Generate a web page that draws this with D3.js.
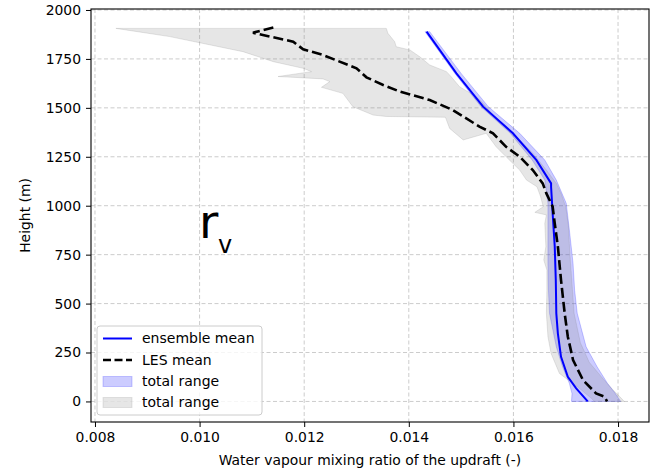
<!DOCTYPE html>
<html>
<head>
<meta charset="utf-8">
<script src="https://cdn.jsdelivr.net/npm/d3@7"></script>
<style>
  html, body { margin: 0; padding: 0; background: #fff; }
  svg { display: block; font-family: "DejaVu Sans", sans-serif; }
</style>
</head>
<body>
<svg id="chart" width="651" height="470"></svg>
<script>
// ---- data (height in m, value = water vapour mixing ratio) ----
const xTicks = [0.008, 0.010, 0.012, 0.014, 0.016, 0.018];
const yTicks = [0, 250, 500, 750, 1000, 1250, 1500, 1750, 2000];

// ensemble mean
const ensHeight = [1889, 1676, 1506, 1370, 1233, 1114, 1097, 961, 791, 620, 450, 347, 228, 126, 67, 0];
const ensMean   = [0.01434, 0.01491, 0.01542, 0.01599, 0.01644, 0.01672, 0.01672, 0.01675, 0.01679, 0.01681, 0.01682, 0.01685, 0.01691, 0.01704, 0.01720, 0.01742];

// ensemble total range
const ensRangeHeight = [1889, 1676, 1506, 1370, 1233, 1131, 1012, 876, 705, 569, 450, 279, 177, 92, 40, 0];
const ensMin = [0.01431, 0.01488, 0.01538, 0.01594, 0.01636, 0.01660, 0.01666, 0.01666, 0.01666, 0.01667, 0.01669, 0.01682, 0.01694, 0.01707, 0.01712, 0.01711];
const ensMax = [0.01440, 0.01500, 0.01552, 0.01612, 0.01660, 0.01682, 0.01701, 0.01707, 0.01714, 0.01717, 0.01722, 0.01739, 0.01760, 0.01780, 0.01795, 0.01805];

// LES mean
const lesHeight = [1910, 1884, 1872, 1838, 1799, 1770, 1702, 1656, 1617, 1583, 1540, 1489, 1404, 1370, 1301, 1250, 1182, 1114, 1063, 995, 910, 791, 620, 450, 331, 212, 109, 41, 24, 0];
const lesMean   = [0.01141, 0.01102, 0.01121, 0.01179, 0.01198, 0.01236, 0.01300, 0.01319, 0.01351, 0.01383, 0.01440, 0.01484, 0.01535, 0.01561, 0.01586, 0.01612, 0.01637, 0.01656, 0.01663, 0.01675, 0.01679, 0.01685, 0.01691, 0.01698, 0.01704, 0.01714, 0.01733, 0.01758, 0.01774, 0.01779];

// LES total range: lower (left) edge, top to bottom
const lesMinHeight = [1906, 1864, 1787, 1736, 1702, 1685, 1660, 1648, 1634, 1605, 1574, 1506, 1463, 1456, 1452, 1395, 1336, 1370, 1301, 1250, 1182, 1131, 1097, 1046, 995, 966, 953, 910, 791, 723, 671, 569, 450, 331, 245, 143, 67, 16, 0];
const lesMin = [0.00840, 0.00943, 0.01083, 0.01141, 0.01198, 0.01214, 0.01150, 0.01236, 0.01249, 0.01233, 0.01274, 0.01293, 0.01332, 0.01357, 0.01470, 0.01478, 0.01504, 0.01548, 0.01567, 0.01586, 0.01612, 0.01625, 0.01645, 0.01652, 0.01657, 0.01641, 0.01663, 0.01660, 0.01662, 0.01658, 0.01664, 0.01664, 0.01663, 0.01666, 0.01672, 0.01688, 0.01726, 0.01749, 0.01755];
// LES total range: upper (right) edge, top to bottom
const lesMaxHeight = [1906, 1881, 1838, 1812, 1796, 1761, 1719, 1685, 1659, 1608, 1557, 1523, 1455, 1404, 1336, 1268, 1182, 1114, 1063, 995, 900, 750, 600, 450, 300, 200, 120, 60, 20, 0];
const lesMax = [0.01357, 0.01360, 0.01373, 0.01376, 0.01402, 0.01421, 0.01440, 0.01472, 0.01481, 0.01497, 0.01529, 0.01542, 0.01564, 0.01586, 0.01612, 0.01637, 0.01663, 0.01682, 0.01691, 0.01700, 0.01705, 0.01708, 0.01712, 0.01716, 0.01728, 0.01745, 0.01770, 0.01790, 0.01805, 0.01812];

const legendLabels = ["ensemble mean", "LES mean", "total range", "total range"];

// ---- drawing ----
const svg = d3.select("#chart");
const pL = 91, pR = 649, pT = 9, pB = 422;
const fs = 13.9;

const x = d3.scaleLinear().domain([0.007924, 0.018592]).range([pL, pR]);
const y = d3.scaleLinear().domain([-105, 2005]).range([pB, pT]);

// grid
const grid = svg.append("g");
grid.selectAll("line.gx").data(xTicks).enter().append("line")
  .attr("x1", d => x(d)).attr("x2", d => x(d)).attr("y1", pT).attr("y2", pB)
  .attr("stroke", "#cccccc").attr("stroke-width", 1).attr("stroke-dasharray", "4,2.5");
grid.selectAll("line.gy").data(yTicks).enter().append("line")
  .attr("y1", d => y(d)).attr("y2", d => y(d)).attr("x1", pL).attr("x2", pR)
  .attr("stroke", "#cccccc").attr("stroke-width", 1).attr("stroke-dasharray", "4,2.5");

const plot = svg.append("g");

// polygon helper from left edge (top->bottom) and right edge (top->bottom)
function bandPoints(hL, vL, hR, vR) {
  const pts = [];
  for (let i = 0; i < hL.length; i++) pts.push([vL[i], hL[i]]);
  for (let i = hR.length - 1; i >= 0; i--) pts.push([vR[i], hR[i]]);
  return pts;
}
const poly = d3.line().x(d => x(d[0])).y(d => y(d[1]));

// ensemble band
plot.append("path")
  .attr("d", poly(bandPoints(ensRangeHeight, ensMin, ensRangeHeight, ensMax)) + "Z")
  .attr("fill", "#0000ff").attr("fill-opacity", 0.2)
  .attr("stroke", "#0000ff").attr("stroke-opacity", 0.2).attr("stroke-width", 1);

// LES band
plot.append("path")
  .attr("d", poly(bandPoints(lesMinHeight, lesMin, lesMaxHeight, lesMax)) + "Z")
  .attr("fill", "#808080").attr("fill-opacity", 0.2)
  .attr("stroke", "#808080").attr("stroke-opacity", 0.2).attr("stroke-width", 1);

// ensemble mean
const lineGen = d3.line().x(d => x(d[0])).y(d => y(d[1]));
plot.append("path")
  .attr("d", lineGen(ensHeight.map((h, i) => [ensMean[i], h])))
  .attr("fill", "none").attr("stroke", "#0000ff").attr("stroke-width", 2);

// LES mean
plot.append("path")
  .attr("d", lineGen(lesHeight.map((h, i) => [lesMean[i], h])))
  .attr("fill", "none").attr("stroke", "#000").attr("stroke-width", 2.6)
  .attr("stroke-dasharray", "10,4");

// r_v annotation
const ann = svg.append("text").attr("x", 199).attr("y", 238).attr("fill", "#000");
ann.append("tspan").attr("font-size", 47).text("r");
ann.append("tspan").attr("font-size", 24).attr("x", 218).attr("y", 253).text("v");

// frame
svg.append("rect").attr("x", pL).attr("y", pT).attr("width", pR - pL).attr("height", pB - pT)
  .attr("fill", "none").attr("stroke", "#000").attr("stroke-width", 1.1);

// axes
const xAxis = d3.axisBottom(x).tickValues(xTicks).tickFormat(d3.format(".3f")).tickSizeOuter(0).tickSize(5).tickPadding(5);
const gx = svg.append("g").attr("transform", `translate(0,${pB})`).call(xAxis);
gx.select(".domain").remove();
gx.selectAll("text").attr("font-size", fs).attr("font-family", "DejaVu Sans").attr("fill", "#000");
gx.selectAll("line").attr("stroke", "#000");

const yAxis = d3.axisLeft(y).tickValues(yTicks).tickFormat(d3.format("d")).tickSizeOuter(0).tickSize(5).tickPadding(5);
const gy = svg.append("g").attr("transform", `translate(${pL},0)`).call(yAxis);
gy.select(".domain").remove();
gy.selectAll("text").attr("font-size", fs).attr("font-family", "DejaVu Sans").attr("fill", "#000");
gy.selectAll("line").attr("stroke", "#000");

// axis labels
svg.append("text").attr("x", (pL + pR) / 2).attr("y", 465).attr("text-anchor", "middle")
  .attr("font-size", fs).text("Water vapour mixing ratio of the updraft (-)");
svg.append("text").attr("transform", `translate(30,${(pT + pB) / 2}) rotate(-90)`)
  .attr("text-anchor", "middle").attr("font-size", fs).text("Height (m)");

// legend
const lg = svg.append("g");
lg.append("rect").attr("x", 97).attr("y", 326).attr("width", 165).attr("height", 89).attr("rx", 3)
  .attr("fill", "#fff").attr("fill-opacity", 0.8).attr("stroke", "#cccccc").attr("stroke-width", 1);
const rowY = [338.5, 360, 381.5, 402.5];
lg.append("line").attr("x1", 103).attr("x2", 132).attr("y1", rowY[0]).attr("y2", rowY[0])
  .attr("stroke", "#0000ff").attr("stroke-width", 2);
lg.append("line").attr("x1", 103).attr("x2", 132).attr("y1", rowY[1]).attr("y2", rowY[1])
  .attr("stroke", "#000").attr("stroke-width", 2.6).attr("stroke-dasharray", "8,3.5");
lg.append("rect").attr("x", 103).attr("y", rowY[2] - 5).attr("width", 29).attr("height", 10)
  .attr("fill", "#0000ff").attr("fill-opacity", 0.2).attr("stroke", "#0000ff").attr("stroke-opacity", 0.2);
lg.append("rect").attr("x", 103).attr("y", rowY[3] - 5).attr("width", 29).attr("height", 10)
  .attr("fill", "#808080").attr("fill-opacity", 0.2).attr("stroke", "#808080").attr("stroke-opacity", 0.2);
lg.selectAll("text.lt").data(legendLabels).enter().append("text")
  .attr("x", 142).attr("y", (d, i) => rowY[i]).attr("dy", "0.35em")
  .attr("font-size", 14).attr("fill", "#000").text(d => d);
</script>
</body>
</html>
